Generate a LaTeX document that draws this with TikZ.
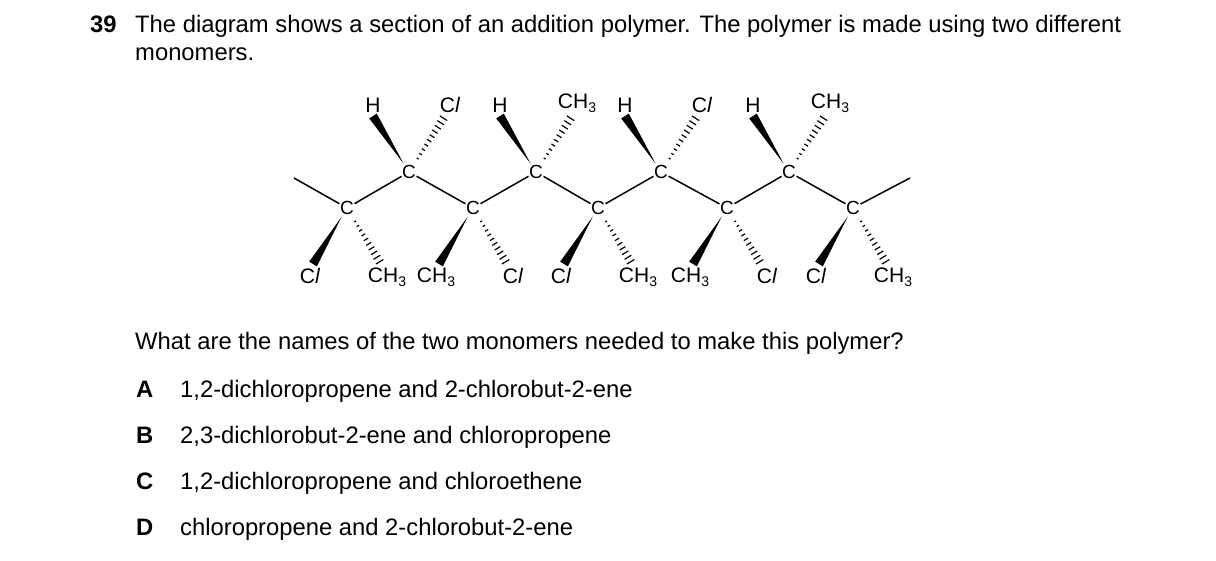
\documentclass[tikz,border=0pt]{standalone}
\usepackage{fontspec}
\setmainfont{Liberation Sans}
\usetikzlibrary{calc,positioning}
\tikzset{
  atom/.style={font=\fontsize{19}{19}\selectfont, inner sep=0.5pt},
  sub/.style={font=\fontsize{21}{21}\selectfont, inner sep=0pt},
  txt/.style={font=\fontsize{23.8}{26}\selectfont, anchor=base west, inner sep=0pt},
  bond/.style={line width=1.5pt}
}
\newcommand{\Cl}{C\textit{l}}
\newcommand{\Me}{CH\raisebox{-0.35ex}{\fontsize{14}{14}\selectfont 3}}
% wedge from atom #1 to end #2
\newcommand{\wedgebond}[2]{\fill ($(#1)!10pt!(#2)$) -- ($(#2)!4.5pt!90:(#1)$) -- ($(#2)!4.5pt!-90:(#1)$) -- cycle;}
% hashed bond from atom #1 to end #2
\newcommand{\hashbond}[2]{\foreach \t in {0.24,0.32,...,1.0}
  \draw[line width=1.2pt] ($($(#1)!\t!(#2)$)!{\t*4.5pt}!90:(#2)$) -- ($($(#1)!\t!(#2)$)!{\t*4.5pt}!-90:(#2)$);}
\begin{document}
\begin{tikzpicture}[x=1pt,y=-1pt]
\useasboundingbox (0,0) rectangle (1216,560);
% question text
\node[txt] (num) at (90,32) {\textbf{39}};
\node[txt] (q1) at (135,32) {The diagram shows a section of an addition polymer. The polymer is made using two different};
\node[txt] (q2) at (135,60) {monomers.};
\node[txt] (q3) at (135,349) {What are the names of the two monomers needed to make this polymer?};
\foreach \l/\s/\y in {A/{1,2-dichloropropene and 2-chlorobut-2-ene}/397,
  B/{2,3-dichlorobut-2-ene and chloropropene}/443,
  C/{1,2-dichloropropene and chloroethene}/489,
  D/{chloropropene and 2-chlorobut-2-ene}/535}{
  \node[txt] (opt\l) at (136,\y) {\textbf{\l}};
  \node[txt] (ans\l) at (180,\y) {\s};
}
% carbon chain
\foreach \i/\x/\y in {1/347/208,2/409/172,3/473/208,4/536/172,5/598/208,6/661/172,7/727/208,8/789/172,9/853/208}
  \node[atom] (c\i) at (\x,\y) {C};
\coordinate (e0) at (294,178);
\coordinate (e10) at (910,178);
\draw[bond] (e0) -- (c1) -- (c2) -- (c3) -- (c4) -- (c5) -- (c6) -- (c7) -- (c8) -- (c9) -- (e10);
% upper substituents
\foreach \i/\a/\b in {2/H/\Cl,4/H/\Me,6/H/\Cl,8/H/\Me}{
  \coordinate (w\i) at ($(c\i)+(-36,-56)$);
  \coordinate (h\i) at ($(c\i)+(36,-56)$);
  \wedgebond{c\i}{w\i}
  \hashbond{c\i}{h\i}
  \node[sub, above=3pt of w\i] (tw\i) {\a};
  \node[sub, above=3pt of h\i, xshift=5pt] (th\i) {\b};
}
% lower substituents
\foreach \i/\a/\b in {1/\Cl/\Me,3/\Me/\Cl,5/\Cl/\Me,7/\Me/\Cl,9/\Cl/\Me}{
  \coordinate (w\i) at ($(c\i)+(-34,56)$);
  \coordinate (h\i) at ($(c\i)+(34,56)$);
  \wedgebond{c\i}{w\i}
  \hashbond{c\i}{h\i}
  \node[sub, below=4pt of w\i, xshift=-3pt] (tw\i) {\a};
  \node[sub, below=4pt of h\i, xshift=6pt] (th\i) {\b};
}
\end{tikzpicture}
\end{document}
